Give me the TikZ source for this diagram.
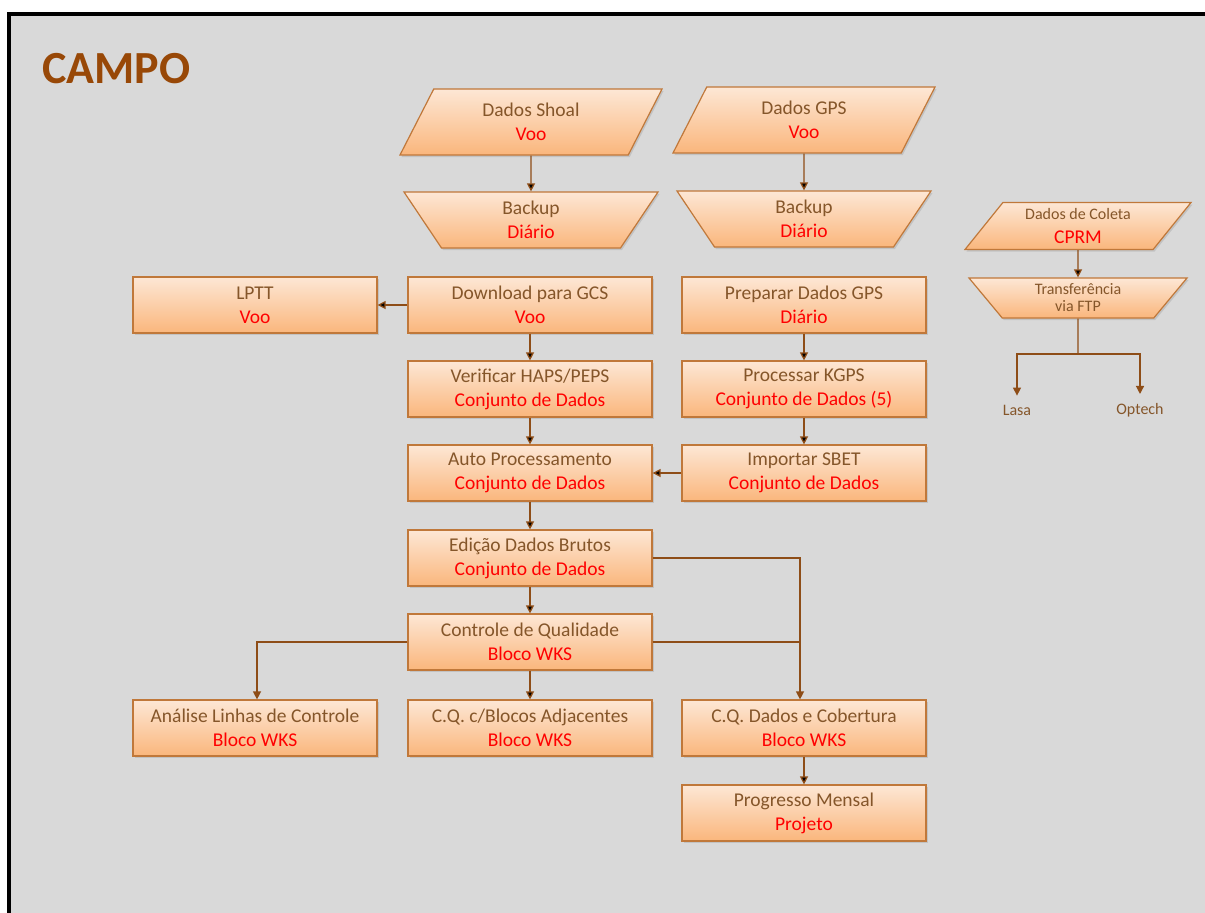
\documentclass[tikz,border=0pt]{standalone}
\usepackage{fontspec}
\setmainfont{Carlito}
\usepackage{tikz}
\usetikzlibrary{arrows.meta,shapes.geometric,shadows}

\definecolor{fundo}{HTML}{D9D9D9}
\definecolor{claro}{HTML}{FDE7D5}
\definecolor{escuro}{HTML}{FAB67C}
\definecolor{borda}{HTML}{C0783A}
\definecolor{marrom}{HTML}{85562A}
\definecolor{vermelho}{HTML}{FF0000}
\definecolor{linha}{HTML}{8E4D17}
\definecolor{titulo}{HTML}{984807}

\newcommand{\duas}[2]{#1\\\textcolor{vermelho}{#2}}

\begin{document}
\begin{tikzpicture}[x=1pt,y=-1pt,
  caixa/.style={draw=borda,line width=1.2pt,top color=claro,bottom color=escuro,
    text=marrom,align=center,inner sep=2pt,font=\fontsize{19.5}{24}\selectfont,
    drop shadow={opacity=0.25,shadow xshift=1.5pt,shadow yshift=-2pt}},
  proc/.style={caixa,rectangle,minimum width=244pt,minimum height=56pt},
  dado/.style={caixa,trapezium,trapezium left angle=51,trapezium right angle=129,
    trapezium stretches body,minimum width=262pt,minimum height=66pt},
  copia/.style={caixa,trapezium,trapezium left angle=132,trapezium right angle=132,
    trapezium stretches body,minimum width=254pt,minimum height=56pt},
  seta/.style={draw=linha,line width=1.3pt,-{Triangle[length=8pt,width=8pt]}},
  liga/.style={draw=linha,line width=1.3pt}]

  \useasboundingbox (0,0) rectangle (1205,913);
  \fill[fundo] (9,14) rectangle (1205,913);
  \draw[line width=4pt] (9,913) -- (9,14) -- (1205,14);

  \node[anchor=base west,inner sep=0,text=titulo,font=\bfseries\fontsize{46}{46}\selectfont] (campo) at (42,83) {CAMPO};

  % entrada de dados
  \draw (531,122) node[dado] (shoal) {\duas{Dados Shoal}{Voo}};
  \draw (804,120) node[dado] (gps) {\duas{Dados GPS}{Voo}};
  \draw (531,220) node[copia] (backup1) {\duas{Backup}{Diário}};
  \draw (804,219) node[copia] (backup2) {\duas{Backup}{Diário}};

  % coluna do meio
  \draw (530,305) node[proc] (download) {\duas{Download para GCS}{Voo}};
  \draw (255,305) node[proc] (lptt) {\duas{LPTT}{Voo}};
  \draw (530,389) node[proc] (verificar) {\duas{Verificar HAPS/PEPS}{Conjunto de Dados}};
  \draw (530,473) node[proc] (auto) {\duas{Auto Processamento}{Conjunto de Dados}};
  \draw (530,558) node[proc] (edicao) {\duas{Edição Dados Brutos}{Conjunto de Dados}};
  \draw (530,642) node[proc] (controle) {\duas{Controle de Qualidade}{Bloco WKS}};
  \draw (530,728) node[proc] (cqblocos) {\duas{C.Q. c/Blocos Adjacentes}{Bloco WKS}};
  \draw (255,728) node[proc] (analise) {\duas{Análise Linhas de Controle}{Bloco WKS}};

  % coluna da direita
  \draw (804,305) node[proc] (preparar) {\duas{Preparar Dados GPS}{Diário}};
  \draw (804,389) node[proc] (processar) {\duas{Processar KGPS}{Conjunto de Dados (5)}};
  \draw (804,473) node[proc] (importar) {\duas{Importar SBET}{Conjunto de Dados}};
  \draw (804,728) node[proc] (cqdados) {\duas{C.Q. Dados e Cobertura}{Bloco WKS}};
  \draw (804,813) node[proc] (progresso) {\duas{Progresso Mensal}{Projeto}};

  % coleta
  \draw (1078,226) node[dado,trapezium left angle=46,trapezium right angle=134,
    minimum width=226pt,minimum height=47pt,font=\fontsize{16}{24}\selectfont]
    (coleta) {Dados de Coleta\\\textcolor{vermelho}{\fontsize{19.5}{24}\selectfont CPRM}};
  \draw (1078,298) node[copia,trapezium left angle=136,trapezium right angle=136,
    minimum width=218pt,minimum height=40pt,font=\fontsize{16}{17}\selectfont]
    (transf) {Transferência\\via FTP};
  \draw (1017,410) node[text=marrom,font=\fontsize{16}{16}\selectfont,inner sep=9pt] (lasa) {Lasa};
  \draw (1140,410) node[text=marrom,font=\fontsize{16}{16}\selectfont,inner sep=9pt] (optech) {Optech};
  \coordinate (ramo) at (1078,354);

  \path[seta] (shoal) edge (backup1);
  \path[seta] (gps) edge (backup2);
  \path[seta] (download) edge (lptt);
  \path[seta] (download) edge (verificar);
  \path[seta] (verificar) edge (auto);
  \path[seta] (auto) edge (edicao);
  \path[seta] (edicao) edge (controle);
  \path[seta] (controle) edge (cqblocos);
  \path[seta] (preparar) edge (processar);
  \path[seta] (processar) edge (importar);
  \path[seta] (importar) edge (auto);
  \path[seta] (cqdados) edge (progresso);
  \draw[seta] (edicao.east) -| ([xshift=-4pt]cqdados.north);
  \draw[liga] (controle.east) -- ([xshift=-4pt]controle.east -| cqdados);
  \draw[seta] (controle.west) -| ([xshift=2pt]analise.north);
  \path[seta] (coleta) edge (transf);
  \draw[liga] (transf.south) -- (ramo);
  \draw[seta] (ramo) -| (lasa.north);
  \draw[seta] (ramo) -| (optech.north);

\end{tikzpicture}
\end{document}
